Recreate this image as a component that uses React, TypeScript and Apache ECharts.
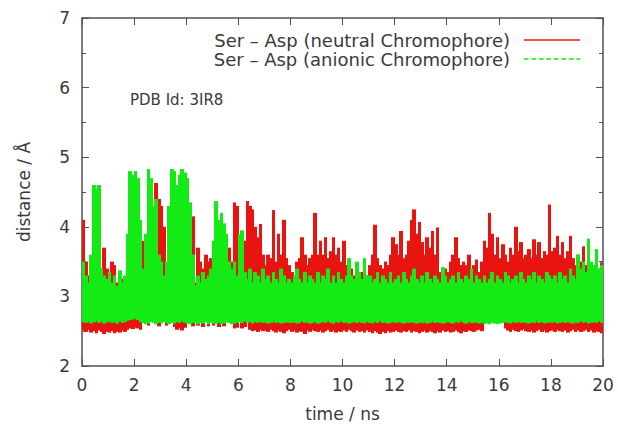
import React, { useEffect, useRef } from "react";
import * as echarts from "echarts";

// time bin width in ns (each bin holds the lowest and highest distance seen in it)
const binWidth = 0.1;

const seriesNames = [
  "Ser – Asp (neutral Chromophore)",
  "Ser – Asp (anionic Chromophore)",
];

// neutral chromophore: highest distance per 0.1 ns bin (Å)
const neutralHigh = [
  4.1, 3.5, 3.3, 3.2, 3.5, 3.5, 3.5, 3.4, 3.7, 3.4,
  3.3, 3.5, 3.45, 3.2, 3.37, 3.25, 3.1, 3.3, 3.5, 3.5,
  3.5, 3.5, 3.5, 3.8, 3.5, 3.5, 3.9, 4.3, 4.63, 4.4,
  4.3, 4.0, 3.1, 3.6, 4.0, 4.0, 4.5, 4.63, 4.3, 4.5,
  4.2, 4.0, 4.15, 3.2, 3.7, 3.5, 3.4, 3.6, 3.5, 3.55,
  3.65, 3.8, 3.8, 3.8, 3.8, 3.6, 3.7, 3.5, 4.35, 4.3,
  3.6, 3.92, 3.8, 4.37, 4.3, 4.25, 4.0, 3.85, 4.04, 3.6,
  3.45, 3.6, 3.55, 4.24, 3.5, 3.9, 3.6, 4.1, 3.55, 3.45,
  3.35, 3.3, 3.5, 3.55, 3.85, 3.6, 3.45, 3.55, 3.6, 4.2,
  3.6, 3.8, 3.6, 3.85, 3.55, 3.65, 3.85, 3.6, 3.7, 3.5,
  3.8, 3.45, 3.35, 3.4, 3.3, 3.35, 3.3, 3.35, 3.4, 3.3,
  3.45, 3.6, 4.03, 3.55, 3.45, 3.4, 3.5, 3.45, 3.6, 3.85,
  3.75, 3.6, 3.94, 3.55, 3.6, 3.8, 4.1, 4.25, 3.9, 4.07,
  3.78, 3.6, 3.85, 3.7, 3.94, 3.6, 3.99, 3.35, 3.3, 3.4,
  3.35, 3.5, 3.6, 3.85, 3.55, 3.45, 3.5, 3.45, 3.6, 3.4,
  3.45, 3.53, 3.35, 3.5, 3.8, 3.7, 4.2, 3.9, 3.6, 3.85,
  3.55, 3.75, 3.6, 3.5, 3.7, 3.6, 4.0, 3.65, 3.78, 3.55,
  3.6, 3.68, 3.55, 3.82, 3.6, 3.78, 3.55, 3.65, 3.6, 4.32,
  3.65, 3.7, 3.87, 3.6, 3.78, 3.55, 3.65, 3.87, 3.55, 3.45,
  3.6, 3.5, 3.72, 3.45, 3.5, 3.4, 3.45, 3.35, 3.4, 3.49,
];

// neutral chromophore: lowest distance per bin (Å)
const neutralLow = [
  2.51, 2.49, 2.52, 2.48, 2.5, 2.47, 2.51, 2.49, 2.46, 2.49,
  2.48, 2.5, 2.47, 2.49, 2.48, 2.51, 2.49, 2.52, 2.54, 2.53,
  2.55, 2.54, 2.52, 2.62, 2.66, 2.58, 2.66, 2.64, 2.66, 2.57,
  2.66, 2.64, 2.58, 2.66, 2.65, 2.56, 2.52, 2.54, 2.51, 2.55,
  2.66, 2.64, 2.57, 2.66, 2.58, 2.65, 2.56, 2.66, 2.57, 2.64,
  2.58, 2.66, 2.56, 2.65, 2.57, 2.66, 2.66, 2.65, 2.54, 2.55,
  2.66, 2.54, 2.56, 2.66, 2.52, 2.5, 2.51, 2.49, 2.52, 2.5,
  2.51, 2.49, 2.52, 2.5, 2.48, 2.51, 2.49, 2.47, 2.5, 2.52,
  2.49, 2.51, 2.48, 2.5, 2.49, 2.46, 2.51, 2.49, 2.52, 2.5,
  2.49, 2.51, 2.48, 2.5, 2.52, 2.49, 2.51, 2.48, 2.5, 2.49,
  2.51, 2.49, 2.52, 2.5, 2.48, 2.51, 2.49, 2.5, 2.48, 2.51,
  2.49, 2.47, 2.5, 2.48, 2.46, 2.49, 2.47, 2.5, 2.48, 2.49,
  2.51, 2.49, 2.48, 2.5, 2.49, 2.51, 2.48, 2.5, 2.49, 2.47,
  2.49, 2.51, 2.48, 2.5, 2.49, 2.47, 2.5, 2.48, 2.51, 2.49,
  2.5, 2.48, 2.49, 2.51, 2.49, 2.47, 2.5, 2.49, 2.51, 2.5,
  2.49, 2.51, 2.52, 2.5, 2.66, 2.65, 2.66, 2.64, 2.66, 2.65,
  2.66, 2.64, 2.54, 2.51, 2.49, 2.52, 2.5, 2.49, 2.51, 2.53,
  2.5, 2.49, 2.51, 2.48, 2.5, 2.52, 2.49, 2.51, 2.48, 2.5,
  2.51, 2.49, 2.52, 2.5, 2.49, 2.51, 2.48, 2.5, 2.52, 2.49,
  2.51, 2.49, 2.5, 2.52, 2.49, 2.51, 2.48, 2.5, 2.49, 2.47,
];

// anionic chromophore: highest distance per bin (Å)
const anionicHigh = [
  3.5, 3.3, 3.2, 3.6, 4.6, 4.55, 4.6, 3.4, 3.3, 3.25,
  3.35, 3.2, 3.3, 3.15, 3.37, 3.2, 3.3, 3.9, 4.8, 4.75,
  4.8, 4.7, 4.1, 3.4, 3.9, 4.83, 4.7, 4.3, 4.4, 3.6,
  3.5, 3.3, 3.5, 4.3, 4.83, 4.8, 4.6, 4.75, 4.83, 4.78,
  4.7, 4.35, 3.6, 3.15, 3.3, 3.2, 3.35, 3.25, 3.3, 3.4,
  3.8, 4.37, 4.1, 4.2, 4.05, 3.9, 3.5, 3.4, 3.5, 3.3,
  3.9, 3.95, 3.35, 3.25, 3.4, 3.2, 3.35, 3.3, 3.2, 3.4,
  3.25, 3.3, 3.2, 3.35, 3.25, 3.2, 3.4, 3.3, 3.2, 3.25,
  3.2, 3.3, 3.4, 3.25, 3.2, 3.35, 3.2, 3.3, 3.25, 3.2,
  3.35, 3.2, 3.3, 3.25, 3.4, 3.2, 3.3, 3.2, 3.35, 3.25,
  3.2, 3.3, 3.55, 3.3, 3.25, 3.5, 3.35, 3.25, 3.55, 3.3,
  3.3, 3.2, 3.25, 3.35, 3.2, 3.3, 3.25, 3.2, 3.35, 3.2,
  3.25, 3.3, 3.2, 3.35, 3.25, 3.2, 3.3, 3.4, 3.25, 3.2,
  3.3, 3.2, 3.35, 3.25, 3.2, 3.3, 3.25, 3.2, 3.42, 3.3,
  3.2, 3.25, 3.3, 3.2, 3.35, 3.25, 3.2, 3.3, 3.25, 3.4,
  3.2, 3.3, 3.25, 3.2, 3.3, 3.2, 3.25, 3.35, 3.2, 3.3,
  3.25, 3.2, 3.35, 3.3, 3.2, 3.25, 3.3, 3.2, 3.35, 3.25,
  3.2, 3.3, 3.25, 3.35, 3.2, 3.3, 3.25, 3.2, 3.35, 3.3,
  3.25, 3.3, 3.2, 3.35, 3.25, 3.3, 3.2, 3.4, 3.3, 3.25,
  3.6, 3.4, 3.5, 3.35, 3.83, 3.5, 3.45, 3.68, 3.4, 3.45,
];

// anionic chromophore: lowest distance per bin (Å)
const anionicLow = [
  2.63, 2.62, 2.64, 2.61, 2.63, 2.65, 2.62, 2.64, 2.61, 2.63,
  2.64, 2.62, 2.63, 2.61, 2.64, 2.62, 2.63, 2.65, 2.66, 2.67,
  2.68, 2.66, 2.63, 2.62, 2.6, 2.61, 2.63, 2.62, 2.6, 2.62,
  2.61, 2.63, 2.62, 2.6, 2.62, 2.61, 2.63, 2.62, 2.64, 2.62,
  2.61, 2.6, 2.62, 2.61, 2.6, 2.62, 2.61, 2.63, 2.6, 2.62,
  2.61, 2.6, 2.62, 2.6, 2.61, 2.63, 2.62, 2.6, 2.61, 2.62,
  2.63, 2.62, 2.64, 2.62, 2.63, 2.61, 2.63, 2.62, 2.64, 2.62,
  2.63, 2.61, 2.62, 2.64, 2.62, 2.63, 2.61, 2.62, 2.63, 2.62,
  2.62, 2.63, 2.61, 2.62, 2.64, 2.62, 2.63, 2.61, 2.62, 2.63,
  2.61, 2.62, 2.63, 2.62, 2.64, 2.62, 2.61, 2.63, 2.62, 2.64,
  2.62, 2.63, 2.61, 2.62, 2.63, 2.62, 2.64, 2.62, 2.61, 2.63,
  2.62, 2.61, 2.63, 2.62, 2.64, 2.62, 2.63, 2.61, 2.62, 2.63,
  2.62, 2.64, 2.62, 2.61, 2.63, 2.62, 2.63, 2.62, 2.61, 2.63,
  2.62, 2.63, 2.61, 2.62, 2.64, 2.62, 2.63, 2.62, 2.61, 2.62,
  2.63, 2.62, 2.61, 2.63, 2.62, 2.64, 2.62, 2.61, 2.63, 2.62,
  2.62, 2.63, 2.61, 2.62, 2.6, 2.61, 2.6, 2.62, 2.61, 2.6,
  2.61, 2.62, 2.63, 2.62, 2.61, 2.63, 2.62, 2.64, 2.62, 2.63,
  2.62, 2.61, 2.63, 2.62, 2.64, 2.62, 2.63, 2.61, 2.62, 2.63,
  2.62, 2.63, 2.61, 2.62, 2.64, 2.62, 2.63, 2.62, 2.61, 2.63,
  2.62, 2.64, 2.62, 2.63, 2.61, 2.62, 2.63, 2.62, 2.64, 2.62,
];

const annotation = "PDB Id: 3IR8";
const xAxisName = "time / ns";
const yAxisName = "distance / Å";

const RED = "#e81410";
const GREEN = "#14ea14";
const FRAME = "#505050";
const TEXT = "#3a3a3a";
const FONT = "DejaVu Sans";

// legend samples: solid line for the neutral trace, dashed line for the anionic one
const SOLID_ICON = "rect";
const DASHED_ICON =
  "path://M0,0h5v1h-5z M8,0h5v1h-5z M16,0h5v1h-5z M24,0h5v1h-5z M32,0h5v1h-5z M40,0h5v1h-5z M48,0h5v1h-5z M56,0h4v1h-4z";

// one record per bin: [start time, lowest, highest]
function binsToRecords(low: number[], high: number[]): number[][] {
  return low.map((lo, i) => [i * binWidth, lo, high[i]]);
}

function makeRenderItem(color: string) {
  return (_params: any, api: any) => {
    const t = api.value(0);
    const lo = api.value(1);
    const hi = api.value(2);
    const topLeft = api.coord([t, hi]);
    const bottomRight = api.coord([t + binWidth, lo]);
    // snap horizontal edges to whole pixels so neighbouring bins join without seams
    const x0 = Math.floor(topLeft[0]);
    const x1 = Math.ceil(bottomRight[0]);
    return {
      type: "rect",
      shape: {
        x: x0,
        y: topLeft[1],
        width: Math.max(1, x1 - x0),
        height: bottomRight[1] - topLeft[1],
      },
      style: { fill: color },
    };
  };
}

export default function App() {
  const ref = useRef<HTMLDivElement>(null);

  useEffect(() => {
    if (!ref.current) return;
    const chart = echarts.init(ref.current, undefined, { renderer: "svg" });

    const xAxisBase = {
      type: "value" as const,
      min: 0,
      max: 20,
      interval: 2,
      splitLine: { show: false },
      axisLine: { onZero: false, lineStyle: { color: FRAME, width: 1.5 } },
      axisTick: { inside: true, length: 7, lineStyle: { color: FRAME, width: 1 } },
    };
    const yAxisBase = {
      type: "value" as const,
      min: 2,
      max: 7,
      interval: 1,
      splitLine: { show: false },
      axisLine: { onZero: false, lineStyle: { color: FRAME, width: 1.5 } },
      axisTick: { inside: true, length: 7, lineStyle: { color: FRAME, width: 1 } },
      minorTick: { show: true, splitNumber: 2, length: 4, lineStyle: { color: FRAME, width: 1 } },
      minorSplitLine: { show: false },
    };

    chart.setOption({
      animation: false,
      backgroundColor: "#ffffff",
      textStyle: { fontFamily: FONT },
      grid: { left: 82, right: 15, top: 18, bottom: 64, containLabel: false },
      legend: {
        orient: "vertical",
        right: 38,
        top: 31,
        padding: 0,
        itemGap: 1,
        align: "right",
        itemWidth: 56,
        itemHeight: 1.5,
        symbolKeepAspect: false,
        selectedMode: false,
        textStyle: { fontSize: 18, color: TEXT, fontFamily: FONT, padding: [0, 9, 0, 0] },
        data: [
          { name: seriesNames[0], icon: SOLID_ICON, itemStyle: { color: RED } },
          { name: seriesNames[1], icon: DASHED_ICON, itemStyle: { color: GREEN } },
        ],
      },
      xAxis: [
        {
          ...xAxisBase,
          position: "bottom",
          axisLabel: { color: TEXT, fontSize: 17, margin: 10, fontFamily: FONT },
          name: xAxisName,
          nameLocation: "middle",
          nameGap: 39,
          nameTextStyle: { color: TEXT, fontSize: 17, fontFamily: FONT },
        },
        {
          ...xAxisBase,
          position: "top",
          axisLabel: { show: false },
        },
      ],
      yAxis: [
        {
          ...yAxisBase,
          position: "left",
          axisLabel: { color: TEXT, fontSize: 17, margin: 12, fontFamily: FONT },
          name: yAxisName,
          nameLocation: "middle",
          nameGap: 50,
          nameRotate: 90,
          nameTextStyle: { color: TEXT, fontSize: 17, fontFamily: FONT },
        },
        {
          ...yAxisBase,
          position: "right",
          axisLabel: { show: false },
        },
      ],
      graphic: [
        {
          type: "text",
          left: 130,
          top: 92,
          style: { text: annotation, fontSize: 15, fill: TEXT, fontFamily: FONT },
        },
      ],
      series: [
        {
          name: seriesNames[0],
          type: "custom",
          xAxisIndex: 0,
          yAxisIndex: 0,
          data: binsToRecords(neutralLow, neutralHigh),
          encode: { x: 0, y: [1, 2] },
          renderItem: makeRenderItem(RED),
          itemStyle: { color: RED },
          clip: true,
          z: 2,
        },
        {
          name: seriesNames[1],
          type: "custom",
          xAxisIndex: 0,
          yAxisIndex: 0,
          data: binsToRecords(anionicLow, anionicHigh),
          encode: { x: 0, y: [1, 2] },
          renderItem: makeRenderItem(GREEN),
          itemStyle: { color: GREEN },
          clip: true,
          z: 3,
        },
      ],
    });

    return () => chart.dispose();
  }, []);

  return (
    <div
      ref={ref}
      style={{ position: "absolute", left: 0, top: 0, width: 618, height: 430, background: "#fff" }}
    />
  );
}
